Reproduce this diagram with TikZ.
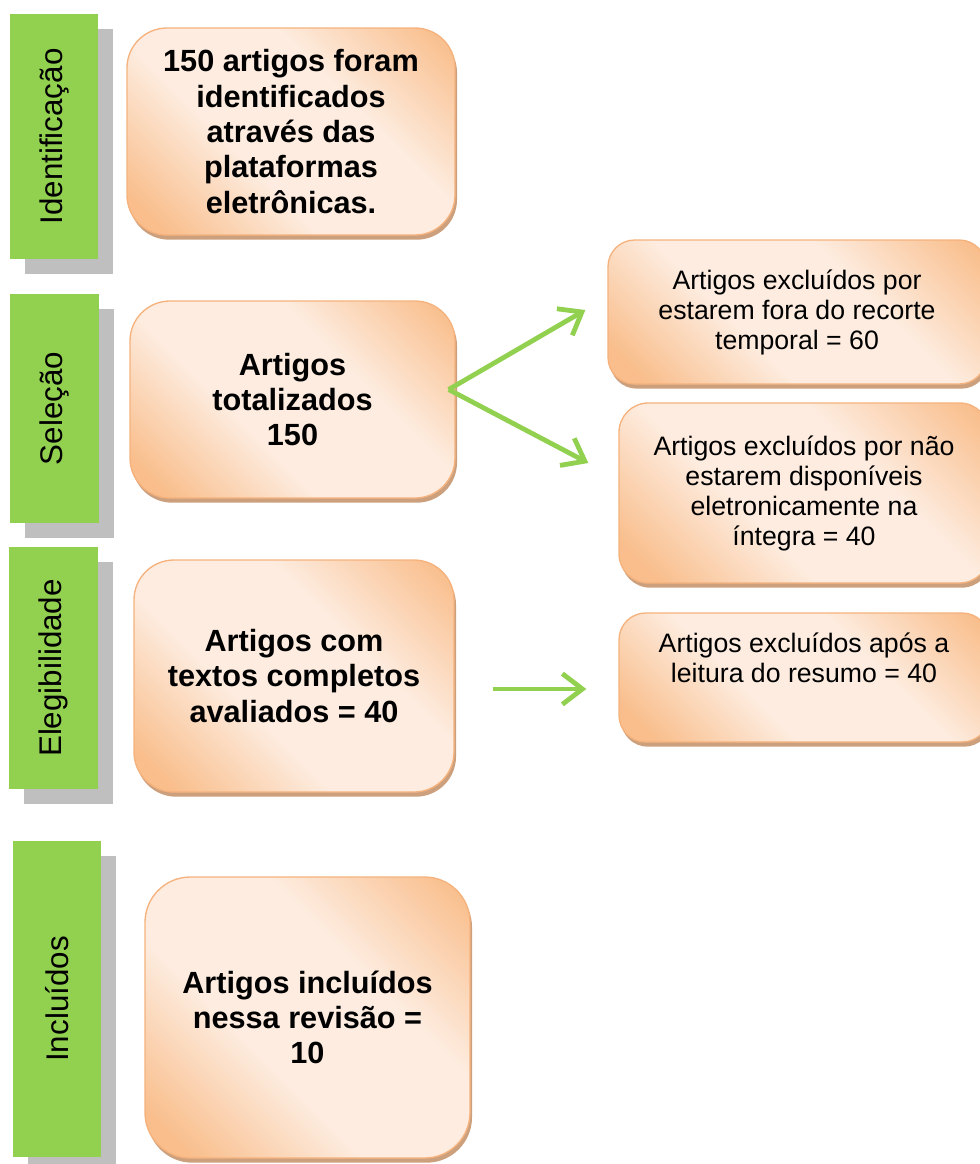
\documentclass[tikz,border=0pt]{standalone}
\usepackage{fontspec}
\usepackage{graphicx}
\setmainfont{Liberation Sans}
\usetikzlibrary{positioning,shadows,arrows.meta,calc}

\definecolor{barGreen}{RGB}{146,208,80}
\definecolor{barShadow}{RGB}{191,191,191}
\definecolor{peachDark}{RGB}{249,190,140}
\definecolor{peachLight}{RGB}{253,236,223}
\definecolor{peachLine}{RGB}{245,178,125}
\definecolor{peachShadow}{RGB}{205,160,125}
\pgfdeclarehorizontalshading{peach}{100bp}{color(0bp)=(peachDark); color(20bp)=(peachDark); color(40bp)=(peachLight); color(62bp)=(peachLight); color(83bp)=(peachDark); color(100bp)=(peachDark)}

\begin{document}
\begin{tikzpicture}[
  x=0.75pt,y=-0.75pt,
  phasebar/.style={fill=barGreen,draw=none,inner sep=0pt,
    drop shadow={shadow xshift=11.25pt,shadow yshift=-11.25pt,fill=barShadow,opacity=1},
    font=\fontsize{23.5}{28}\selectfont},
  mainbox/.style={draw=peachLine,line width=1pt,shade,shading=peach,shading angle=45,
    rounded corners=30pt,align=center,inner sep=0pt,
    drop shadow={shadow xshift=1.5pt,shadow yshift=-3.5pt,fill=peachShadow,opacity=1},
    font=\bfseries\fontsize{23}{26.5}\selectfont},
  exclbox/.style={mainbox,rounded corners=20pt,font=\fontsize{20}{22.5}\selectfont},
  flowarrow/.style={draw=barGreen,line width=3.6pt,-{Straight Barb[length=15pt,width=23pt]}}
]
\useasboundingbox (0,0) rectangle (980,1164);

% fases
\node[phasebar,minimum width=66pt,minimum height=183.75pt] (idbar) at (54,136.5) {\rotatebox{90}{Identificação}};
\node[phasebar,minimum width=66.75pt,minimum height=171.75pt] (selbar) at (54.5,408.5) {\rotatebox{90}{Seleção}};
\node[phasebar,minimum width=66.75pt,minimum height=181.5pt] (elbar) at (53.5,668) {\rotatebox{90}{Elegibilidade}};
\node[phasebar,minimum width=66pt,minimum height=237pt] (incbar) at (57,999) {\rotatebox{90}{Incluídos}};

% caixas principais
\node[mainbox,minimum width=246pt,minimum height=155.25pt] (idbox) at (291,131.5)
  {150 artigos foram\\identificados\\através das\\plataformas\\eletrônicas.};
\node[mainbox,minimum width=243.75pt,minimum height=147.75pt] (selbox) at (292.5,399.5)
  {Artigos\\totalizados\\150};
\node[mainbox,minimum width=240pt,minimum height=174pt] (elbox) at (294,676)
  {Artigos com\\textos completos\\avaliados = 40};
\node[mainbox,rounded corners=34pt,minimum width=243.75pt,minimum height=210.75pt] (incbox) at (307.5,1017.5)
  {Artigos incluídos\\nessa revisão =\\10};

% exclusoes
\node[exclbox,minimum width=283.5pt,minimum height=108pt] (exc1) at (797,312)
  {Artigos excluídos por\\estarem fora do recorte\\temporal = 60};
\node[exclbox,rounded corners=22pt,minimum width=277.5pt,minimum height=135pt] (exc2) at (804,493)
  {Artigos excluídos por não\\estarem disponíveis\\eletronicamente na\\íntegra = 40};
\node[exclbox,minimum width=277.5pt,minimum height=96.75pt] (exc3) at (804,677.5)
  {Artigos excluídos após a\\leitura do resumo = 40\\\strut};

% setas
\coordinate (fork) at ($(selbox.east)+(-7,-10)$);
\coordinate (tip1) at ($(exc1.west)+(-22,-2)$);
\coordinate (tip2) at ($(exc2.west)+(-30,-30)$);
\coordinate (tail3) at ($(elbox.east)+(38,13)$);
\coordinate (tip3) at ($(exc3.west)+(-32,11.5)$);
\draw[flowarrow] (fork) -- (tip1);
\draw[flowarrow] (fork) -- (tip2);
\draw[flowarrow] (tail3) -- (tip3);

\end{tikzpicture}
\end{document}
